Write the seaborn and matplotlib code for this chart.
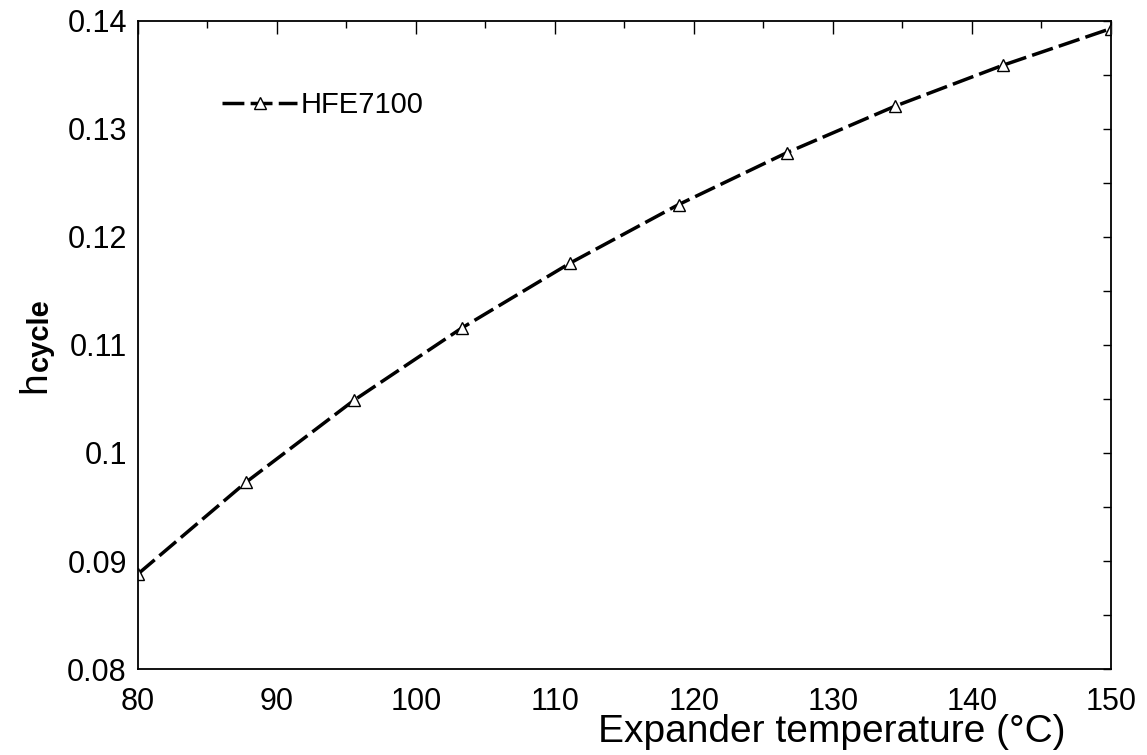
import matplotlib
matplotlib.use("Agg")
import matplotlib.pyplot as plt
import seaborn as sns
import pandas as pd
import numpy as np
from matplotlib.ticker import MultipleLocator

temps = [80.0, 87.78, 95.56, 103.33, 111.11, 118.89, 126.67, 134.44, 142.22, 150.0]
eff = [0.0888, 0.0973, 0.1049, 0.1116, 0.1176, 0.1230, 0.1278, 0.1321, 0.1359, 0.1393]
series = ["HFE7100"] * len(temps)
yticks = [0.08, 0.09, 0.10, 0.11, 0.12, 0.13, 0.14]
ylabels = ["0.08", "0.09", "0.1", "0.11", "0.12", "0.13", "0.14"]
xticks = [80, 90, 100, 110, 120, 130, 140, 150]

sns.set_style("white")
plt.rcParams['font.family'] = ['Liberation Sans', 'DejaVu Sans']
plt.rcParams['text.color'] = 'black'
plt.rcParams['axes.labelcolor'] = 'black'
plt.rcParams['xtick.color'] = 'black'
plt.rcParams['ytick.color'] = 'black'

df = pd.DataFrame({"T": temps, "eta": eff, "fluid": series})

fig = plt.figure(figsize=(11.47, 7.55), dpi=100)
ax = fig.add_axes([0.1203, 0.1139, 0.8483, 0.8583])

sns.lineplot(data=df, x="T", y="eta", hue="fluid", palette=["black"], ax=ax,
             marker="^", markersize=8, markerfacecolor="white", markeredgecolor="black",
             markeredgewidth=1.0, linewidth=2.5, legend=False)
for ln in ax.lines:
    ln.set_dashes([6.3, 1.8])
    ln.set_label("HFE7100")

ax.set_xlim(80, 150)
ax.set_ylim(0.08, 0.14)
ax.set_xticks(xticks)
ax.set_xticklabels([str(t) for t in xticks])
ax.xaxis.set_minor_locator(MultipleLocator(5))
ax.set_yticks(yticks)
ax.set_yticklabels(ylabels)
ax.yaxis.set_minor_locator(MultipleLocator(0.005))

ax.tick_params(axis="both", which="both", direction="in", top=True, right=True,
               colors="black", width=1.0)
ax.tick_params(axis="x", which="major", length=9, labelsize=22, pad=13)
ax.tick_params(axis="x", which="minor", length=5)
ax.tick_params(axis="y", which="major", length=6, labelsize=22, pad=8)
ax.tick_params(axis="y", which="minor", length=6)
for s in ax.spines.values():
    s.set_color("black")
    s.set_linewidth(1.3)

ax.set_xlabel("Expander temperature (°C)", fontsize=28, color="black")
ax.xaxis.set_label_coords(0.713, -0.070)
ax.set_ylabel("")

# y-axis label: "h" with subscript "cycle"
fig.text(45 / 1147, 1 - 393 / 755, "h", fontsize=28, rotation=90, color="black",
         rotation_mode="anchor", ha="left", va="baseline")
fig.text(48 / 1147, 1 - 371 / 755, "cycle", fontsize=21, fontweight="bold", color="black",
         rotation=90, rotation_mode="anchor", ha="left", va="baseline")

leg = ax.legend(loc="center left", bbox_to_anchor=(0.086, 0.870), frameon=False,
                fontsize=21, handlelength=2.6, handletextpad=0.1, borderaxespad=0,
                borderpad=0, labelcolor="black")

fig.savefig("out.png", dpi=100, facecolor="white")
